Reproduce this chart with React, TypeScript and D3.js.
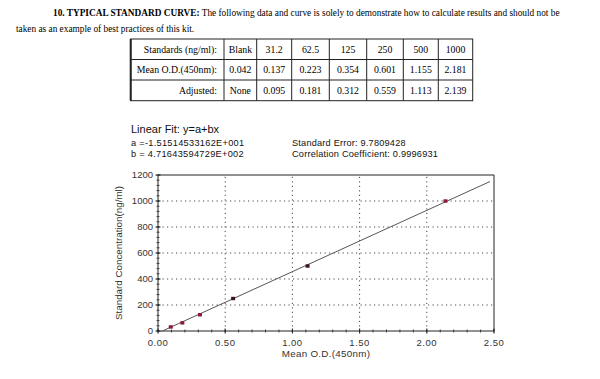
import React from "react";
import * as d3 from "d3";

const standards = ["Blank", "31.2", "62.5", "125", "250", "500", "1000"];
const meanOD = ["0.042", "0.137", "0.223", "0.354", "0.601", "1.155", "2.181"];
const adjusted = ["None", "0.095", "0.181", "0.312", "0.559", "1.113", "2.139"];
const rowLabels = ["Standards (ng/ml):", "Mean O.D.(450nm):", "Adjusted:"];

const pointOD = [0.095, 0.181, 0.312, 0.559, 1.113, 2.139];
const pointConc = [31.2, 62.5, 125, 250, 500, 1000];

const fitA = -15.1514533162;
const fitB = 471.643594729;
const fitRange = [0.032, 2.47];

const xTicks = [0, 0.5, 1.0, 1.5, 2.0, 2.5];
const yTicks = [0, 200, 400, 600, 800, 1000, 1200];

const colEdges = [130.7, 224, 256.7, 291.7, 329.3, 366.7, 403.3, 438.3, 472.7];
const rowEdges = [39, 59.5, 80, 100.7];

export default function App() {
  const x = d3.scaleLinear().domain([0, 2.5]).range([158, 494]);
  const y = d3.scaleLinear().domain([0, 1200]).range([331, 175]);
  const line = d3
    .line<number>()
    .x((d) => x(d))
    .y((d) => y(fitA + fitB * d));
  const xMinor = d3.range(0, 2.5001, 0.1);
  const yMinor = d3.range(0, 1200.01, 40);
  const serif = "'Liberation Serif', 'Times New Roman', serif";
  const sans = "'Liberation Sans', Arial, sans-serif";
  const rows = [standards, meanOD, adjusted];

  return (
    <svg
      width={600}
      height={379}
      style={{ position: "absolute", left: 0, top: 0, background: "#fff" }}
    >
      <rect width={600} height={379} fill="#fff" />
      {/* header text */}
      <text x={53} y={16} fontFamily={serif} fontSize={9.3} fill="#000">
        <tspan fontWeight="bold">10. TYPICAL STANDARD CURVE:</tspan>
        <tspan> The following data and curve is solely to demonstrate how to calculate results and should not be</tspan>
      </text>
      <text x={16} y={32} fontFamily={serif} fontSize={9.3} fill="#000">
        taken as an example of best practices of this kit.
      </text>

      {/* table */}
      <g stroke="#222" strokeWidth={1} fill="none">
        <rect x={colEdges[0]} y={rowEdges[0]} width={colEdges[8] - colEdges[0]} height={rowEdges[3] - rowEdges[0]} />
        <line x1={colEdges[0]} x2={colEdges[0]} y1={rowEdges[0]} y2={rowEdges[3]} strokeWidth={2} />
        {colEdges.slice(1, -1).map((c, i) => (
          <line key={"c" + i} x1={c} x2={c} y1={rowEdges[0]} y2={rowEdges[3]} />
        ))}
        {rowEdges.slice(1, -1).map((r, i) => (
          <line key={"r" + i} x1={colEdges[0]} x2={colEdges[8]} y1={r} y2={r} />
        ))}
      </g>
      {rowLabels.map((lab, ri) => {
        const cy = (rowEdges[ri] + rowEdges[ri + 1]) / 2 + 3.5;
        return (
          <g key={lab} fontFamily={serif} fontSize={9.8} fill="#000">
            <text x={colEdges[1] - 7} y={cy} textAnchor="end">
              {lab}
            </text>
            {rows[ri].map((v, ci) => (
              <text
                key={ci}
                x={(colEdges[ci + 1] + colEdges[ci + 2]) / 2}
                y={cy}
                textAnchor="middle"
              >
                {v}
              </text>
            ))}
          </g>
        );
      })}

      {/* fit info */}
      <g fontFamily={sans} fill="#111">
        <text x={131} y={133} fontSize={11}>Linear Fit: y=a+bx</text>
        <text x={131} y={146} fontSize={9.2} letterSpacing={0.3}>a =-1.51514533162E+001</text>
        <text x={131} y={157} fontSize={9.2} letterSpacing={0.3}>b = 4.71643594729E+002</text>
        <text x={292} y={146} fontSize={9.2} letterSpacing={0.2}>Standard Error: 9.7809428</text>
        <text x={292} y={157} fontSize={9.2} letterSpacing={0.2}>Correlation Coefficient: 0.9996931</text>
      </g>

      {/* grid */}
      <g stroke="#333" strokeWidth={0.9} strokeDasharray="1.2,3.3">
        {yTicks.slice(1, -1).map((t) => (
          <line key={"gy" + t} x1={x(0)} x2={x(2.5)} y1={y(t)} y2={y(t)} />
        ))}
        {xTicks.slice(1, -1).map((t) => (
          <line key={"gx" + t} x1={x(t)} x2={x(t)} y1={y(0)} y2={y(1200)} />
        ))}
      </g>

      {/* frame */}
      <g stroke="#222" strokeWidth={1} fill="none">
        <line x1={x(0)} x2={x(2.5)} y1={y(1200)} y2={y(1200)} />
        <line x1={x(2.5)} x2={x(2.5)} y1={y(1200)} y2={y(0)} />
        <line x1={x(0)} x2={x(2.5)} y1={y(0)} y2={y(0)} />
        <line x1={x(0)} x2={x(0)} y1={y(1200)} y2={y(0)} />
        {yMinor.map((t) => (
          <line key={"ym" + t} x1={x(0) - 1.5} x2={x(0) + 1.5} y1={y(t)} y2={y(t)} strokeWidth={0.8} />
        ))}
        {yTicks.map((t) => (
          <line key={"yt" + t} x1={x(0) - 2.5} x2={x(0) + 2.5} y1={y(t)} y2={y(t)} />
        ))}
        {xMinor.map((t) => (
          <line key={"xm" + t} x1={x(t)} x2={x(t)} y1={y(0) - 1.5} y2={y(0) + 1.5} strokeWidth={0.8} />
        ))}
        {xTicks.map((t) => (
          <line key={"xt" + t} x1={x(t)} x2={x(t)} y1={y(0) - 2.5} y2={y(0) + 2.5} />
        ))}
      </g>

      {/* tick labels */}
      <g fontFamily={sans} fontSize={9.5} fill="#333">
        {yTicks.map((t) => (
          <text key={"yl" + t} x={x(0) - 5} y={y(t) + 3.3} textAnchor="end">
            {t}
          </text>
        ))}
        {xTicks.map((t) => (
          <text key={"xl" + t} x={x(t)} y={y(0) + 15} textAnchor="middle" letterSpacing={0.5}>
            {d3.format(".2f")(t)}
          </text>
        ))}
        <text x={(x(0) + x(2.5)) / 2} y={y(0) + 26} textAnchor="middle" fontSize={9.8} letterSpacing={0.3}>
          Mean O.D.(450nm)
        </text>
        <text
          transform={`translate(${122},${(y(0) + y(1200)) / 2}) rotate(-90)`}
          textAnchor="middle"
          fontSize={9.8}
        >
          Standard Concentration(ng/ml)
        </text>
      </g>

      {/* fit line */}
      <path d={line(fitRange) || ""} stroke="#555" strokeWidth={1} fill="none" />

      {/* points */}
      {pointOD.map((od, i) => (
        <rect
          key={"p" + i}
          x={x(od) - 2}
          y={y(pointConc[i]) - 1.7}
          width={4}
          height={3.4}
          fill={i === 3 || i === 4 ? "#3a1420" : "#8a1a35"}
        />
      ))}
    </svg>
  );
}
